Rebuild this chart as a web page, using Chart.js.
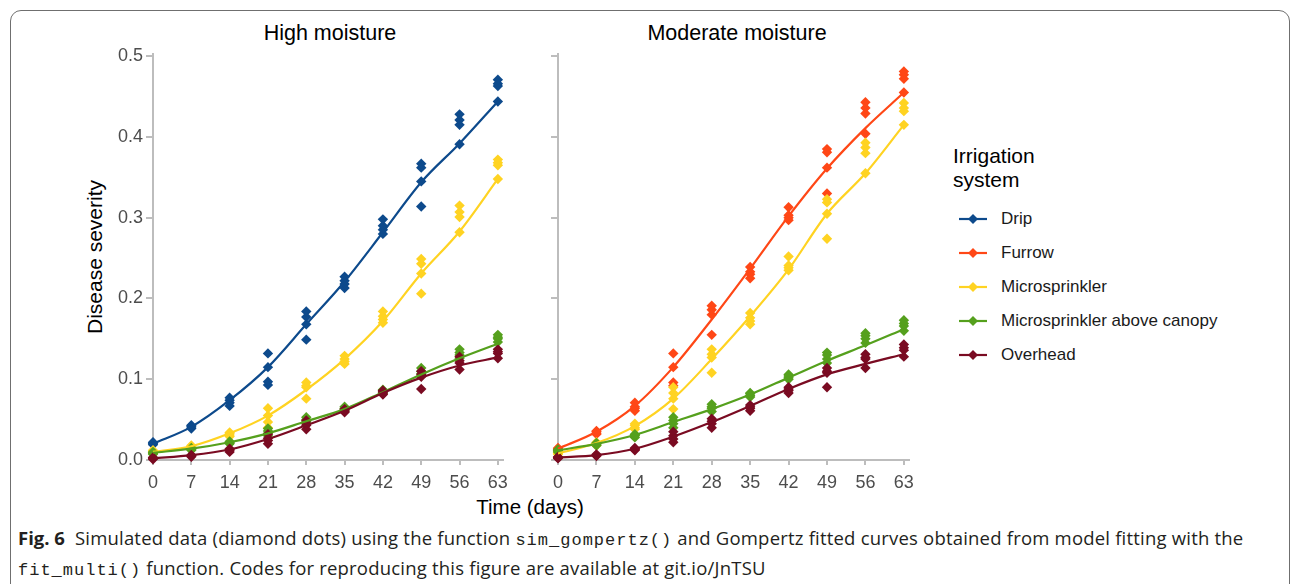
<!DOCTYPE html>
<html>
<head>
<meta charset="utf-8">
<script src="https://cdn.jsdelivr.net/npm/chart.js@4.4.1/dist/chart.umd.min.js"></script>
<style>
  body { margin: 0; background: #fff; width: 1293px; height: 584px; overflow: hidden; position: relative; font-family: "Liberation Sans", Arial, sans-serif; }
  .frame { position: absolute; left: 10px; top: 10px; width: 1278px; height: 600px; border: 1.5px solid #6f6f6f; border-radius: 11px; }
  canvas { position: absolute; }
  .txt { position: absolute; white-space: nowrap; color: #000; }
  .ptitle { font-size: 21.5px; top: 21px; transform: translateX(-50%); }
  #ytitle { font-size: 21px; left: 95px; top: 257px; transform: translate(-50%, -50%) rotate(-90deg); }
  #xtitle { font-size: 20.5px; left: 530px; top: 495px; transform: translateX(-50%); }
  #legend { position: absolute; left: 953px; top: 144px; }
  #legend .ltitle { font-size: 21px; line-height: 24px; margin-bottom: 10px; }
  #legend .item { display: flex; align-items: center; height: 34px; font-size: 17px; color: #1a1a1a; }
  #legend svg { margin: 0 14px 0 6px; }
  #caption { position: absolute; left: 18px; top: 524px; font-family: "Open Sans", "Noto Sans", sans-serif; font-size: 18.5px; line-height: 27px; color: #231f20; letter-spacing: 0.2px; white-space: nowrap; }
  #caption b { font-weight: 700; letter-spacing: 0; }
  #caption code { font-family: "Liberation Mono", "DejaVu Sans Mono", monospace; font-size: 17px; font-weight: 400; letter-spacing: 1px; }
</style>
</head>
<body>
<div class="frame"></div>
<div class="txt ptitle" style="left:330px">High moisture</div>
<div class="txt ptitle" style="left:737px">Moderate moisture</div>
<div class="txt" id="ytitle">Disease severity</div>
<div class="txt" id="xtitle">Time (days)</div>
<canvas id="highChart" width="445" height="450" style="left:70px;top:40px"></canvas>
<canvas id="modChart" width="375" height="450" style="left:546px;top:40px"></canvas>
<div id="legend"></div>
<div id="caption"><b>Fig. 6</b>&nbsp; Simulated data (diamond dots) using the function <code>sim_gompertz()</code> and Gompertz fitted curves obtained from model fitting with the<br><code>fit_multi()</code> function. Codes for reproducing this figure are available at git.io/JnTSU</div>

<script>
// --- data ---
const days = [0, 7, 14, 21, 28, 35, 42, 49, 56, 63];
const xTicks = [0, 7, 14, 21, 28, 35, 42, 49, 56, 63];
const yTicks = [0, 0.1, 0.2, 0.3, 0.4, 0.5];

const systems = ["Drip", "Furrow", "Microsprinkler", "Microsprinkler above canopy", "Overhead"];
const systemColors = ["#0D4A8C", "#FF4716", "#FFD322", "#55A01D", "#7A0B22"];

// High moisture: fitted curves
const highDripFit  = [0.020, 0.041, 0.074, 0.115, 0.168, 0.221, 0.282, 0.344, 0.392, 0.444];
const highMicroFit = [0.010, 0.017, 0.033, 0.055, 0.087, 0.125, 0.172, 0.231, 0.283, 0.348];
const highAboveFit = [0.009, 0.014, 0.022, 0.033, 0.048, 0.063, 0.084, 0.106, 0.126, 0.144];
const highOverFit  = [0.002, 0.006, 0.013, 0.026, 0.043, 0.061, 0.083, 0.102, 0.117, 0.127];

// High moisture: simulated observations (one row per day)
const highDripObs = [
  [0.019, 0.020, 0.021, 0.022], [0.039, 0.041, 0.042, 0.043], [0.067, 0.071, 0.074, 0.077],
  [0.093, 0.097, 0.115, 0.132], [0.149, 0.168, 0.177, 0.184], [0.213, 0.218, 0.222, 0.227],
  [0.280, 0.285, 0.290, 0.298], [0.314, 0.345, 0.362, 0.367], [0.391, 0.415, 0.421, 0.428],
  [0.444, 0.463, 0.466, 0.471]
];
const highMicroObs = [
  [0.009, 0.010, 0.011, 0.012], [0.014, 0.016, 0.017, 0.018], [0.029, 0.031, 0.033, 0.034],
  [0.040, 0.047, 0.055, 0.064], [0.076, 0.090, 0.092, 0.096], [0.119, 0.122, 0.125, 0.129],
  [0.170, 0.174, 0.178, 0.184], [0.206, 0.231, 0.243, 0.249], [0.282, 0.301, 0.307, 0.315],
  [0.348, 0.365, 0.368, 0.372]
];
const highAboveObs = [
  [0.007, 0.008, 0.009, 0.010], [0.012, 0.013, 0.014, 0.015], [0.020, 0.021, 0.022, 0.023],
  [0.030, 0.033, 0.036, 0.039], [0.046, 0.048, 0.050, 0.053], [0.061, 0.063, 0.064, 0.066],
  [0.082, 0.084, 0.086, 0.087], [0.104, 0.107, 0.110, 0.114], [0.126, 0.130, 0.133, 0.137],
  [0.146, 0.150, 0.152, 0.155]
];
const highOverObs = [
  [0.001, 0.002, 0.003, 0.003], [0.004, 0.005, 0.006, 0.006], [0.010, 0.012, 0.013, 0.014],
  [0.020, 0.024, 0.027, 0.032], [0.038, 0.043, 0.045, 0.049], [0.059, 0.060, 0.062, 0.063],
  [0.081, 0.083, 0.085, 0.086], [0.088, 0.103, 0.106, 0.110], [0.112, 0.120, 0.123, 0.128],
  [0.126, 0.132, 0.134, 0.137]
];

// Moderate moisture: fitted curves
const modFurrowFit = [0.014, 0.035, 0.067, 0.115, 0.174, 0.237, 0.302, 0.361, 0.411, 0.455];
const modMicroFit  = [0.008, 0.021, 0.042, 0.076, 0.125, 0.178, 0.236, 0.305, 0.355, 0.415];
const modAboveFit  = [0.012, 0.020, 0.031, 0.047, 0.063, 0.081, 0.102, 0.123, 0.142, 0.162];
const modOverFit   = [0.003, 0.006, 0.014, 0.029, 0.047, 0.067, 0.088, 0.106, 0.119, 0.131];

// Moderate moisture: simulated observations
const modFurrowObs = [
  [0.012, 0.013, 0.014, 0.015], [0.032, 0.033, 0.035, 0.036], [0.061, 0.064, 0.066, 0.071],
  [0.092, 0.096, 0.115, 0.132], [0.155, 0.180, 0.186, 0.191], [0.225, 0.230, 0.233, 0.239],
  [0.297, 0.300, 0.303, 0.313], [0.330, 0.362, 0.381, 0.385], [0.404, 0.429, 0.436, 0.443],
  [0.455, 0.472, 0.477, 0.481]
];
const modMicroObs = [
  [0.007, 0.008, 0.009, 0.010], [0.018, 0.020, 0.021, 0.022], [0.038, 0.040, 0.043, 0.045],
  [0.063, 0.076, 0.083, 0.090], [0.108, 0.127, 0.131, 0.137], [0.168, 0.172, 0.176, 0.182],
  [0.235, 0.238, 0.241, 0.252], [0.274, 0.305, 0.319, 0.323], [0.355, 0.380, 0.387, 0.393],
  [0.415, 0.432, 0.436, 0.442]
];
const modAboveObs = [
  [0.010, 0.011, 0.012, 0.013], [0.018, 0.019, 0.020, 0.021], [0.028, 0.030, 0.031, 0.032],
  [0.040, 0.045, 0.049, 0.053], [0.060, 0.064, 0.066, 0.069], [0.078, 0.080, 0.082, 0.083],
  [0.100, 0.102, 0.104, 0.106], [0.120, 0.125, 0.130, 0.133], [0.145, 0.150, 0.154, 0.157],
  [0.160, 0.166, 0.169, 0.173]
];
const modOverObs = [
  [0.002, 0.003, 0.003, 0.004], [0.005, 0.006, 0.006, 0.007], [0.012, 0.013, 0.014, 0.015],
  [0.022, 0.026, 0.030, 0.035], [0.040, 0.045, 0.048, 0.051], [0.061, 0.064, 0.066, 0.068],
  [0.083, 0.086, 0.088, 0.090], [0.090, 0.108, 0.110, 0.114], [0.114, 0.125, 0.127, 0.131],
  [0.128, 0.136, 0.139, 0.143]
];

// --- helpers ---
const axisGrey = "#BDBDBD";
const tickGrey = "#4D4D4D";

function toPoints(obs) {
  return days.flatMap((d, j) => obs[j].map(v => ({ x: d, y: v })));
}

function buildDatasets(groups) {
  // points first (underneath), then fitted lines; later groups on top
  const sets = [];
  groups.forEach(g => {
    sets.push({
      label: systems[g.sys] + " obs",
      data: toPoints(g.obs),
      showLine: false,
      pointStyle: "rectRot",
      pointRadius: 5.2,
      pointBackgroundColor: systemColors[g.sys],
      pointBorderColor: systemColors[g.sys],
      pointBorderWidth: 0,
      clip: false
    });
  });
  groups.forEach(g => {
    sets.push({
      label: systems[g.sys],
      data: days.map((d, j) => ({ x: d, y: g.fit[j] })),
      showLine: true,
      borderColor: systemColors[g.sys],
      borderWidth: 2.2,
      pointRadius: 0,
      cubicInterpolationMode: "monotone",
      clip: false
    });
  });
  sets.forEach((s, i) => { s.order = sets.length - i; });
  return sets;
}

function makePanel(canvas, groups, showYLabels, yWidth) {
  return new Chart(canvas.getContext("2d"), {
    type: "scatter",
    data: { datasets: buildDatasets(groups) },
    options: {
      responsive: false,
      animation: false,
      events: [],
      layout: { padding: { top: 13, right: 8, left: 0, bottom: 0 } },
      plugins: { legend: { display: false }, tooltip: { enabled: false } },
      scales: {
        x: {
          type: "linear",
          min: 0,
          max: 64,
          afterBuildTicks: s => { s.ticks = xTicks.map(v => ({ value: v })); },
          afterFit: s => { s.height = 30; },
          grid: { drawOnChartArea: false, drawTicks: true, tickLength: 5, color: axisGrey, lineWidth: 2 },
          border: { display: true, color: axisGrey, width: 2 },
          ticks: { color: tickGrey, font: { size: 18, family: "Liberation Sans" }, padding: 7, maxRotation: 0 }
        },
        y: {
          type: "linear",
          min: 0,
          max: 0.503,
          afterBuildTicks: s => { s.ticks = yTicks.map(v => ({ value: v })); },
          afterFit: s => { s.width = yWidth; },
          grid: { drawOnChartArea: false, drawTicks: true, tickLength: 7, color: axisGrey, lineWidth: 2 },
          border: { display: true, color: axisGrey, width: 2 },
          ticks: {
            color: tickGrey,
            font: { size: 18, family: "Liberation Sans" },
            padding: 3,
            callback: v => showYLabels ? v.toFixed(1) : ""
          }
        }
      }
    }
  });
}

makePanel(document.getElementById("highChart"), [
  { sys: 0, fit: highDripFit, obs: highDripObs },
  { sys: 2, fit: highMicroFit, obs: highMicroObs },
  { sys: 3, fit: highAboveFit, obs: highAboveObs },
  { sys: 4, fit: highOverFit, obs: highOverObs }
], true, 83);

makePanel(document.getElementById("modChart"), [
  { sys: 1, fit: modFurrowFit, obs: modFurrowObs },
  { sys: 2, fit: modMicroFit, obs: modMicroObs },
  { sys: 3, fit: modAboveFit, obs: modAboveObs },
  { sys: 4, fit: modOverFit, obs: modOverObs }
], false, 12);

// legend (HTML, real text)
const legend = document.getElementById("legend");
legend.innerHTML = '<div class="ltitle">Irrigation<br>system</div>' + systems.map((name, i) =>
  '<div class="item"><svg width="28" height="12"><line x1="0" y1="6" x2="28" y2="6" stroke="' + systemColors[i] +
  '" stroke-width="2.2"/><polygon points="14,1 19,6 14,11 9,6" fill="' + systemColors[i] + '"/></svg>' + name + '</div>'
).join("");
</script>
</body>
</html>
